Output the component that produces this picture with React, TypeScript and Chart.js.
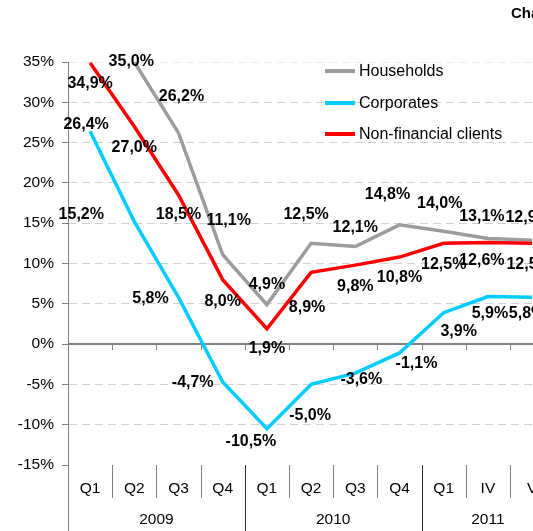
import React, { useEffect, useRef } from "react";
import { Chart, registerables } from "chart.js";

Chart.register(...registerables);

// ---- data ----
const categories = ["Q1", "Q2", "Q3", "Q4", "Q1", "Q2", "Q3", "Q4", "Q1", "IV", "V"];
const years = ["2009", "2010", "2011"];
const yearSpans = [4, 4, 3];
const households: (number | null)[] = [null, 35.0, 26.2, 11.1, 4.9, 12.5, 12.1, 14.8, 14.0, 13.1, 12.9];
const corporates: (number | null)[] = [26.4, 15.2, 5.8, -4.7, -10.5, -5.0, -3.6, -1.1, 3.9, 5.9, 5.8];
const nonFinancial: (number | null)[] = [34.9, 27.0, 18.5, 8.0, 1.9, 8.9, 9.8, 10.8, 12.5, 12.6, 12.5];
const seriesNames = ["Households", "Corporates", "Non-financial clients"];
const yMin = -15;
const yMax = 35;
const yStep = 5;
const titleText = "Chart";

// ---- styling ----
const FONT = "'Liberation Sans', Arial, sans-serif";
const COLORS = ["#9c9c9c", "#00ccff", "#ff0000"];
const LINE_W = 3.5;
const CANVAS_W = 620;
const CANVAS_H = 531;
// label offsets (dx, dy) relative to each point, per series
const labelOffsets: number[][][] = [
  [[0, 0], [-3, 0], [3, -36], [6, -34], [0, -20], [-5, -29], [0, -19], [-12, -30], [-4, -28], [-6, -22], [-4, -23]],
  [[-4, -7], [-53, -7], [-28, 1], [-30, 1], [-16, 13], [-1, 31], [6, 6], [17, 11], [15, 19], [2, 17], [-5, 16]],
  [[0, 21], [0, 21], [0, 20], [0, 22], [0, 20], [-4, 35], [0, 21], [0, 21], [0, 21], [-6, 18], [-3, 21]],
];

const fmt = (v: number) => v.toFixed(1).replace(".", ",") + "%";

const customPlugin = {
  id: "custom",
  beforeDatasetsDraw(chart: any) {
    const { ctx, chartArea } = chart;
    const y = chart.scales.y;
    const n = categories.length;
    const catW = (chartArea.right - chartArea.left) / n;
    const y0 = Math.round(y.getPixelForValue(0));
    ctx.save();
    ctx.strokeStyle = "#808080";
    ctx.lineWidth = 2;
    ctx.beginPath();
    ctx.moveTo(chartArea.left, y0);
    ctx.lineTo(chartArea.right, y0);
    ctx.stroke();
    ctx.lineWidth = 1;
    for (let i = 1; i <= n; i++) {
      const x = Math.round(chartArea.left + i * catW) + 0.5;
      ctx.beginPath();
      ctx.moveTo(x, y0);
      ctx.lineTo(x, y0 + 6);
      ctx.stroke();
    }
    ctx.restore();
  },
  afterDatasetsDraw(chart: any) {
    const { ctx, chartArea } = chart;
    const n = categories.length;
    const catW = (chartArea.right - chartArea.left) / n;
    const bottom = chartArea.bottom;
    ctx.save();
    // axis extension
    ctx.lineWidth = 1;
    ctx.strokeStyle = "#808080";
    const ax = Math.round(chartArea.left) + 0.5;
    ctx.beginPath();
    ctx.moveTo(ax, bottom);
    ctx.lineTo(ax, CANVAS_H);
    ctx.stroke();
    // separators
    const yearBounds = new Set<number>();
    let acc = 0;
    yearSpans.forEach((s) => {
      acc += s;
      yearBounds.add(acc);
    });
    for (let i = 1; i <= n; i++) {
      const x = Math.round(chartArea.left + i * catW) + 0.5;
      ctx.beginPath();
      if (yearBounds.has(i)) {
        ctx.strokeStyle = "#303030";
        ctx.moveTo(x, bottom);
        ctx.lineTo(x, CANVAS_H);
      } else {
        ctx.strokeStyle = "#808080";
        ctx.moveTo(x, bottom);
        ctx.lineTo(x, bottom + 33);
      }
      ctx.stroke();
    }
    // category labels
    ctx.fillStyle = "#000";
    ctx.font = `15.5px ${FONT}`;
    ctx.textAlign = "center";
    ctx.textBaseline = "middle";
    categories.forEach((c, i) => {
      ctx.fillText(c, chartArea.left + (i + 0.5) * catW, bottom + 24);
    });
    let start = 0;
    years.forEach((yr, i) => {
      const cx = chartArea.left + (start + yearSpans[i] / 2) * catW;
      ctx.fillText(yr, cx, bottom + 55);
      start += yearSpans[i];
    });
    // data labels
    ctx.font = `bold 16px ${FONT}`;
    chart.data.datasets.forEach((ds: any, di: number) => {
      const meta = chart.getDatasetMeta(di);
      ds.data.forEach((v: number | null, i: number) => {
        if (v === null || v === undefined) return;
        const pt = meta.data[i];
        const off = labelOffsets[di][i];
        ctx.fillText(fmt(v), pt.x + off[0], pt.y + off[1]);
      });
    });
    // legend
    ctx.font = `16px ${FONT}`;
    ctx.textAlign = "left";
    const ly = [71, 103, 134];
    seriesNames.forEach((name, i) => {
      ctx.strokeStyle = COLORS[i];
      ctx.lineWidth = 4;
      ctx.beginPath();
      ctx.moveTo(325, ly[i]);
      ctx.lineTo(355, ly[i]);
      ctx.stroke();
      ctx.fillText(name, 359, ly[i] + 1);
    });
    // title
    ctx.font = `bold 15px ${FONT}`;
    ctx.fillText(titleText, 511, 14);
    ctx.restore();
  },
};

export default function App() {
  const ref = useRef<HTMLCanvasElement | null>(null);
  useEffect(() => {
    if (!ref.current) return;
    const chart = new Chart(ref.current, {
      type: "line",
      data: {
        labels: categories,
        datasets: [
          { label: seriesNames[0], data: households, borderColor: COLORS[0], borderWidth: LINE_W, pointRadius: 0, tension: 0, spanGaps: false },
          { label: seriesNames[1], data: corporates, borderColor: COLORS[1], borderWidth: LINE_W, pointRadius: 0, tension: 0 },
          { label: seriesNames[2], data: nonFinancial, borderColor: COLORS[2], borderWidth: LINE_W, pointRadius: 0, tension: 0, order: -1 },
        ],
      },
      options: {
        responsive: false,
        animation: false,
        devicePixelRatio: 1,
        layout: { padding: { left: 0, right: CANVAS_W - 554.2, top: 62, bottom: 66 } },
        plugins: { legend: { display: false }, tooltip: { enabled: false }, title: { display: false } },
        scales: {
          x: { type: "category", display: false, offset: true },
          y: {
            min: yMin,
            max: yMax,
            afterFit: (s: any) => {
              s.width = 68;
            },
            ticks: {
              stepSize: yStep,
              callback: (v: any) => v + "%",
              color: "#000",
              font: { family: FONT, size: 15.5 },
              padding: 8,
            },
            grid: {
              color: (c: any) => {
                const v = c.tick && c.tick.value;
                if (v === 0 || v === yMin) return "rgba(0,0,0,0)";
                if (v === yMax) return "#eeeeee";
                return "#d0d0d0";
              },
              tickColor: "#808080",
              tickLength: 6,
              tickBorderDash: [],
              drawTicks: true,
            },
            border: { display: true, color: "#808080", width: 1, dash: [8, 5] },
          },
        },
      },
      plugins: [customPlugin],
    });
    return () => chart.destroy();
  }, []);
  return (
    <div style={{ position: "fixed", left: 0, top: 0, width: 533, height: 531, overflow: "hidden", background: "#fff" }}>
      <canvas ref={ref} width={CANVAS_W} height={CANVAS_H} style={{ width: CANVAS_W, height: CANVAS_H, display: "block" }} />
    </div>
  );
}
